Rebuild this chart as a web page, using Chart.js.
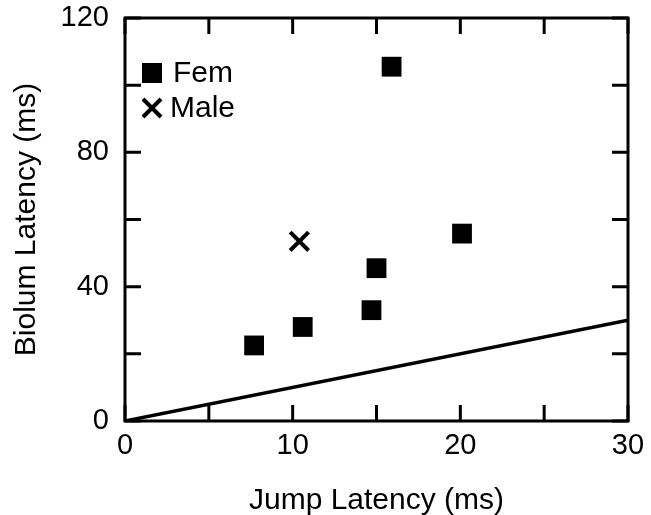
<!DOCTYPE html>
<html>
<head>
<meta charset="utf-8">
<script src="https://cdn.jsdelivr.net/npm/chart.js@4/dist/chart.umd.min.js"></script>
<style>
  html, body { margin: 0; padding: 0; background: #fff; }
  #wrap { width: 651px; height: 515px; }
</style>
</head>
<body>
<div id="wrap"><canvas id="scatter"></canvas></div>
<script>
// data
var femJump = [7.7, 10.6, 14.7, 15.0, 15.9, 20.1];
var femBiolum = [22.5, 28, 33, 45.5, 105.5, 55.8];
var maleJump = [10.4];
var maleBiolum = [53.5];
var lineJump = [0, 30];
var lineBiolum = [0, 30];
var xTicks = [0, 10, 20, 30];
var yTicks = [0, 40, 80, 120];

var font = "'Liberation Sans', Arial, sans-serif";
var titleSize = 30;
var tickSize = 29;

function toPoints(xs, ys) {
    return xs.map(function(x, i) { return { x: x, y: ys[i] }; });
}

// frame, inward tick marks, legend inside the plot
var framePlugin = {
    id: "frame",
    afterDatasetsDraw: function(chart) {
        var ctx = chart.ctx;
        var a = chart.chartArea;
        var xs = chart.scales.x, ys = chart.scales.y;
        ctx.save();
        ctx.strokeStyle = "#000";
        ctx.lineWidth = 3;
        ctx.strokeRect(a.left, a.top, a.right - a.left, a.bottom - a.top);

        var len = 16;
        ctx.beginPath();
        xs.ticks.forEach(function(t) {
            var px = xs.getPixelForValue(t.value);
            ctx.moveTo(px, a.bottom); ctx.lineTo(px, a.bottom - len);
            ctx.moveTo(px, a.top); ctx.lineTo(px, a.top + len);
        });
        ys.ticks.forEach(function(t) {
            var py = ys.getPixelForValue(t.value);
            ctx.moveTo(a.left, py); ctx.lineTo(a.left + len, py);
            ctx.moveTo(a.right, py); ctx.lineTo(a.right - len, py);
        });
        ctx.stroke();

        // legend
        var lx = a.left + 27, ly1 = a.top + 55, ly2 = a.top + 90;
        ctx.fillStyle = "#000";
        ctx.fillRect(lx - 10, ly1 - 10, 20, 20);
        ctx.lineWidth = 4;
        ctx.beginPath();
        ctx.moveTo(lx - 9, ly2 - 9); ctx.lineTo(lx + 9, ly2 + 9);
        ctx.moveTo(lx + 9, ly2 - 9); ctx.lineTo(lx - 9, ly2 + 9);
        ctx.stroke();
        ctx.font = titleSize + "px " + font;
        ctx.textBaseline = "middle";
        ctx.fillText("Fem", lx + 21, ly1 + 1);
        ctx.fillText("Male", lx + 18, ly2 + 1);
        ctx.restore();
    }
};

var ctx = document.getElementById("scatter").getContext("2d");
var chart = new Chart(ctx, {
    type: "scatter",
    data: {
        datasets: [
            {
                label: "Fem",
                data: toPoints(femJump, femBiolum),
                pointStyle: "rect",
                pointRadius: 14,
                pointHoverRadius: 14,
                backgroundColor: "#000",
                borderColor: "#000",
                borderWidth: 0
            },
            {
                label: "Male",
                data: toPoints(maleJump, maleBiolum),
                pointStyle: "crossRot",
                pointRadius: 13,
                pointHoverRadius: 13,
                borderColor: "#000",
                borderWidth: 4
            },
            {
                type: "line",
                label: "equal",
                data: toPoints(lineJump, lineBiolum),
                borderColor: "#000",
                borderWidth: 3.5,
                pointRadius: 0,
                fill: false
            }
        ]
    },
    options: {
        responsive: true,
        maintainAspectRatio: false,
        animation: false,
        layout: { padding: { top: 18, right: 23, left: 0, bottom: 0 } },
        plugins: {
            legend: { display: false },
            tooltip: { enabled: false }
        },
        scales: {
            x: {
                type: "linear",
                min: 0,
                max: 30,
                afterFit: function(s) {
                    s.height = 94;
                    s.paddingLeft = 0;
                    s.paddingRight = 0;
                },
                grid: { display: false },
                border: { display: false },
                ticks: {
                    stepSize: 5,
                    padding: 0,
                    color: "#000",
                    font: { family: font, size: tickSize },
                    maxRotation: 0,
                    callback: function(v) { return xTicks.indexOf(v) >= 0 ? String(v) : ""; }
                },
                title: {
                    display: true,
                    text: "Jump Latency (ms)",
                    color: "#000",
                    font: { family: font, size: titleSize },
                    padding: { top: 0, bottom: -4 }
                }
            },
            y: {
                type: "linear",
                min: 0,
                max: 120,
                afterFit: function(s) {
                    s.width = 125;
                    s.paddingTop = 0;
                    s.paddingBottom = 0;
                },
                grid: { display: false },
                border: { display: false },
                ticks: {
                    stepSize: 20,
                    padding: 8,
                    color: "#000",
                    font: { family: font, size: tickSize },
                    callback: function(v) { return yTicks.indexOf(v) >= 0 ? String(v) : ""; }
                },
                title: {
                    display: true,
                    text: "Biolum Latency (ms)",
                    color: "#000",
                    font: { family: font, size: titleSize },
                    padding: { top: 9, bottom: 0 }
                }
            }
        }
    },
    plugins: [framePlugin]
});
</script>
</body>
</html>
